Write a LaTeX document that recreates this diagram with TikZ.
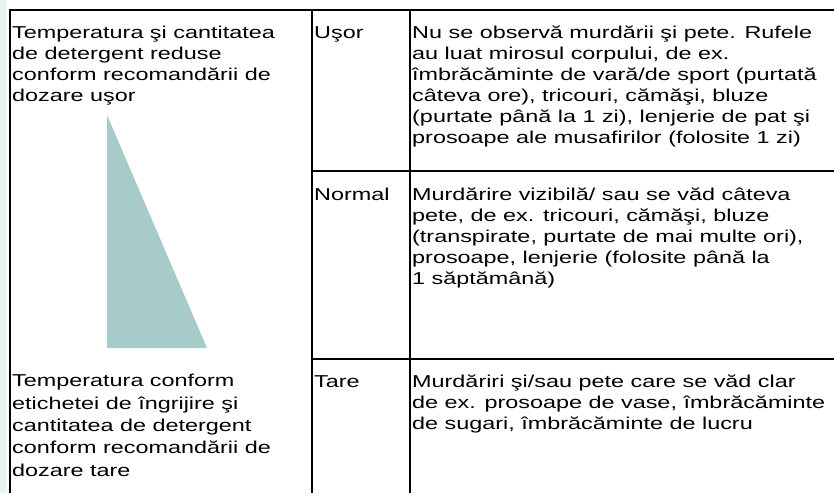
\documentclass[tikz,border=0pt]{standalone}
\usepackage{fontspec}
\setmainfont{Liberation Sans}[FakeStretch=1.36]
\definecolor{stripgreen}{RGB}{233,242,239}
\definecolor{wedgeteal}{RGB}{166,203,200}
\begin{document}
\begin{tikzpicture}[x=1pt,y=-1pt,
  cell/.style={anchor=base west,inner sep=0pt,align=left,font=\fontsize{17.2}{21}\selectfont},
  rule/.style={line width=1.4pt}]
\useasboundingbox (0,0) rectangle (834,493);
\fill[stripgreen] (0,0) rectangle (7,493);
\fill[wedgeteal] (107,115) -- (107,348) -- (207,348) -- cycle;
\draw[rule] (10,493) -- (10,10) -- (834,10);
\draw[rule] (312,10) -- (312,493);
\draw[rule] (410,10) -- (410,493);
\draw[rule] (312,171) -- (834,171);
\draw[rule] (312,359) -- (834,359);
% base anchor = last line of each cell
\node[cell] (reduced) at (12,101) {Temperatura şi cantitatea\\de detergent reduse\\conform recomandării de\\dozare uşor};
\node[cell,font=\fontsize{17.2}{22.3}\selectfont] (full) at (12,476) {Temperatura conform\\etichetei de îngrijire şi\\cantitatea de detergent\\conform recomandării de\\dozare tare};
\node[cell] (light) at (314,38) {Uşor};
\node[cell] (normal) at (314,200) {Normal};
\node[cell] (heavy) at (314,387) {Tare};
\node[cell] (lightdesc) at (412,143) {Nu se observă murdării şi pete. Rufele\\au luat mirosul corpului, de ex.\\îmbrăcăminte de vară/de sport (purtată\\câteva ore), tricouri, cămăşi, bluze\\(purtate până la 1 zi), lenjerie de pat şi\\prosoape ale musafirilor (folosite 1 zi)};
\node[cell] (normaldesc) at (412,284) {Murdărire vizibilă/ sau se văd câteva\\pete, de ex. tricouri, cămăşi, bluze\\(transpirate, purtate de mai multe ori),\\prosoape, lenjerie (folosite până la\\1 săptămână)};
\node[cell] (heavydesc) at (412,429) {Murdăriri şi/sau pete care se văd clar\\de ex. prosoape de vase, îmbrăcăminte\\de sugari, îmbrăcăminte de lucru};
\end{tikzpicture}
\end{document}
